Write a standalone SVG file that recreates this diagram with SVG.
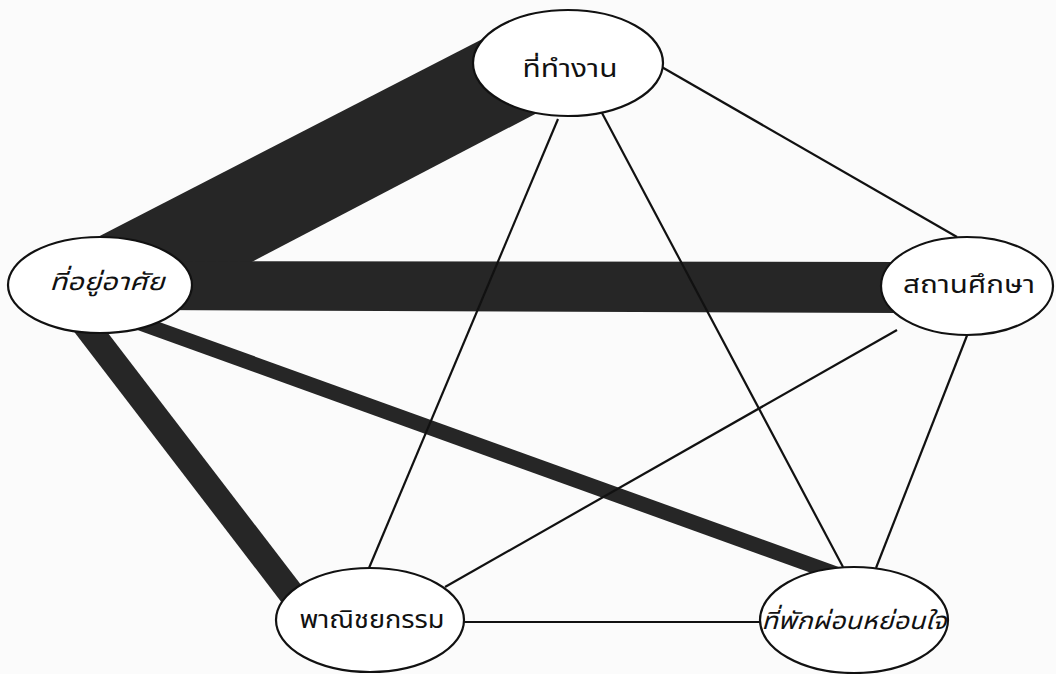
<svg xmlns="http://www.w3.org/2000/svg" width="1056" height="674" viewBox="0 0 1056 674">
<style>
.node{fill:#ffffff;stroke:#111;stroke-width:2.2}
.lbl{font-family:"Noto Sans Thai","Noto Sans","DejaVu Sans",sans-serif;font-size:24px;fill:#111;text-anchor:middle}
.it{font-style:italic}
.thin{stroke:#111;stroke-width:2.2;fill:none}
.band{fill:#262626}
</style>
<rect width="1056" height="674" fill="#fbfbfb"/>
<g id="connectors">
<polygon class="band" points="90,241 500,30 560,101 150,315"/>
<polygon class="band" points="150,261 900,262 900,313 150,310"/>
<line x1="80" y1="318" x2="300" y2="605" stroke="#262626" stroke-width="26"/>
<line x1="140" y1="323" x2="850" y2="579" stroke="#262626" stroke-width="15"/>
<line class="thin" x1="660" y1="66" x2="957" y2="237"/>
<line class="thin" x1="558" y1="119" x2="369" y2="568"/>
<line class="thin" x1="602" y1="113" x2="843" y2="567"/>
<line class="thin" x1="897" y1="330" x2="445" y2="587"/>
<line class="thin" x1="968" y1="333" x2="876" y2="568"/>
<line class="thin" x1="464" y1="622" x2="760" y2="622"/>
</g>
<g id="n-work">
<ellipse class="node" cx="568" cy="63" rx="95" ry="53"/>
<text class="lbl" x="570" y="77" textLength="95" lengthAdjust="spacingAndGlyphs">ที่ทำงาน</text>
</g>
<g id="n-home">
<ellipse class="node" cx="100" cy="285" rx="92" ry="48"/>
<text class="lbl it" x="107" y="290" textLength="115" lengthAdjust="spacingAndGlyphs">ที่อยู่อาศัย</text>
</g>
<g id="n-school">
<ellipse class="node" cx="967" cy="286" rx="86" ry="49"/>
<text class="lbl" x="969" y="293" textLength="132" lengthAdjust="spacingAndGlyphs">สถานศึกษา</text>
</g>
<g id="n-commerce">
<ellipse class="node" cx="370" cy="620" rx="94" ry="52"/>
<text class="lbl" x="372" y="628" textLength="145" lengthAdjust="spacingAndGlyphs">พาณิชยกรรม</text>
</g>
<g id="n-recreation">
<ellipse class="node" cx="854" cy="620" rx="94" ry="53"/>
<text class="lbl it" x="854" y="629" textLength="185" lengthAdjust="spacingAndGlyphs">ที่พักผ่อนหย่อนใจ</text>
</g>
</svg>
